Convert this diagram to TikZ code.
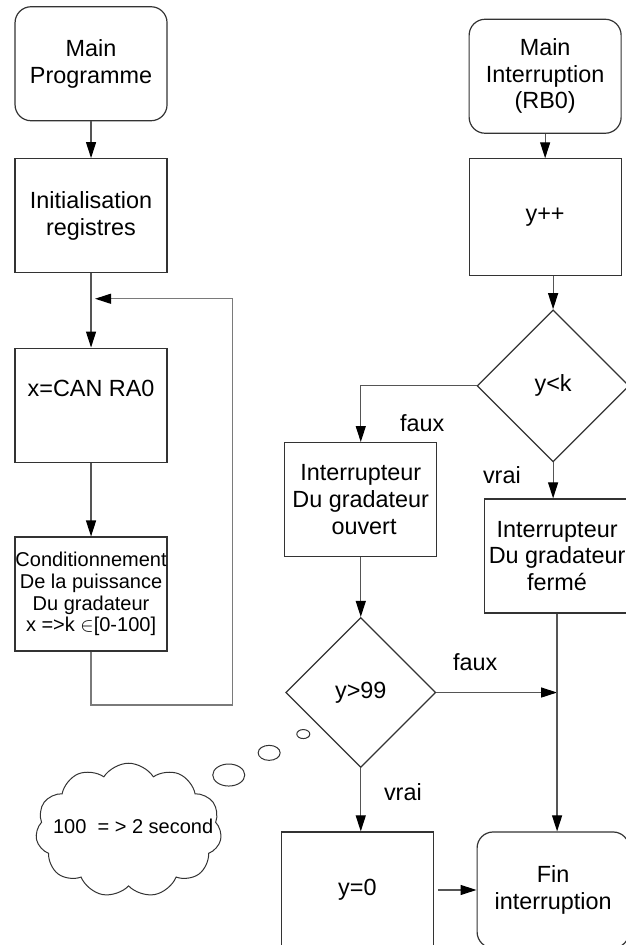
\documentclass[tikz,border=0pt]{standalone}
\usepackage{fontspec}
\setmainfont{Liberation Sans}
\definecolor{flowgrey}{HTML}{333333}
\definecolor{linkgrey}{HTML}{555555}
\definecolor{loopgrey}{HTML}{7A7A7A}
\usetikzlibrary{positioning,arrows.meta,shapes.geometric,shapes.symbols}

\begin{document}
\begin{tikzpicture}[
  font=\fontsize{11.7}{13.3}\selectfont,
  term/.style={draw=flowgrey, line width=0.6pt, rounded corners=8pt, align=center, minimum width=76pt, minimum height=57pt, inner sep=2pt},
  proc/.style={draw=flowgrey, line width=0.6pt, align=center, minimum width=76pt, minimum height=57pt, inner sep=2pt},
  test/.style={draw=flowgrey, line width=0.6pt, diamond, aspect=1, minimum width=76pt, minimum height=76pt, inner sep=0pt},
  arr/.style={-{Triangle[length=8pt,width=5pt,color=black]}, line width=0.6pt, color=linkgrey},
  lab/.style={inner sep=1pt},
  bubble/.style={draw=flowgrey, line width=0.5pt, ellipse, inner sep=0pt},
]
  \useasboundingbox (0,0) rectangle (11.0,-16.607);
  \clip (0,0) rectangle (11.0,-16.607);
  % main programme
  \node[term] (mainprog) at (1.6,-1.12) {Main\\Programme};
  \node[proc] (init) at (1.6,-3.79) {Initialisation\\registres};
  \node[proc] (can) at (1.6,-7.12) {x=CAN RA0\\\strut};
  \node[proc, font=\fontsize{10}{10.8}\selectfont, inner sep=0pt] (cond) at (1.6,-10.44) {Conditionnement\\De la puissance\\Du gradateur\\x =>k $\in$[0-100]};
  \coordinate (loopin) at (1.6,-5.25);
  \coordinate (loopbot) at (4.08,-12.39);
  \draw[arr] (mainprog) -- (init);
  \draw[arr] (init) -- (can);
  \draw[arr] (can) -- (cond);
  \draw[arr, color=loopgrey, shorten >=2pt] (cond) |- (loopbot) |- (loopin);
  % interruption
  \node[term] (mainint) at (9.58,-1.34) {Main\\Interruption\\(RB0)};
  \node[proc, minimum height=58.5pt] (ypp) at (9.58,-3.82) {y++};
  \node[test] (yk) at (9.72,-6.78) {y<k};
  \node[proc] (ouvert) at (6.34,-8.78) {Interrupteur\\Du gradateur\\\ ouvert};
  \node[proc, minimum width=72pt] (ferme) at (9.79,-9.77) {Interrupteur\\Du gradateur\\fermé};
  \node[test, minimum width=75pt, minimum height=75pt] (y99) at (6.34,-12.17) {y>99};
  \node[proc, minimum height=58pt] (y0) at (6.28,-15.64) {y=0};
  \node[term, minimum height=58pt] (fin) at (9.72,-15.64) {Fin\\interruption};
  \coordinate (merge) at (ferme.south |- y99.east);
  \draw[arr] (mainint) -- (ypp);
  \draw[arr] (ypp.south -| yk.north) -- (yk.north);
  \draw[arr] (yk.west) -| (ouvert.north);
  \draw[arr] (yk.south) -- (yk.south |- ferme.north);
  \draw[arr] (ouvert) -- (y99);
  \draw[arr] (y99.east) -- (merge);
  \draw[arr] (ferme.south) -- (ferme.south |- fin.north);
  \draw[arr] (y99.south) -- (y99.south |- y0.north);
  \draw[arr, shorten <=2pt] (y0) -- (fin);
  \node[lab] (faux1) at (7.42,-7.43) {faux};
  \node[lab] (vrai1) at (8.82,-8.35) {vrai};
  \node[lab] (faux2) at (8.35,-11.63) {faux};
  \node[lab] (vrai2) at (7.08,-13.92) {vrai};
  % note
  \node[cloud, draw=flowgrey, line width=0.5pt, cloud puffs=11, cloud puff arc=115, cloud ignores aspect, minimum width=93pt, minimum height=67pt, inner sep=0pt] (note) at (2.26,-14.59) {};
  \node[font=\fontsize{10}{12}\selectfont, inner sep=0pt] (notetext) at (2.34,-14.53) {100\ \ = > 2 second};
  \node[bubble, minimum width=16pt, minimum height=11pt] (bub1) at (4.02,-13.62) {};
  \node[bubble, minimum width=11pt, minimum height=7.5pt] (bub2) at (4.73,-13.23) {};
  \node[bubble, minimum width=6.5pt, minimum height=4.5pt] (bub3) at (5.33,-12.90) {};
\end{tikzpicture}
\end{document}
